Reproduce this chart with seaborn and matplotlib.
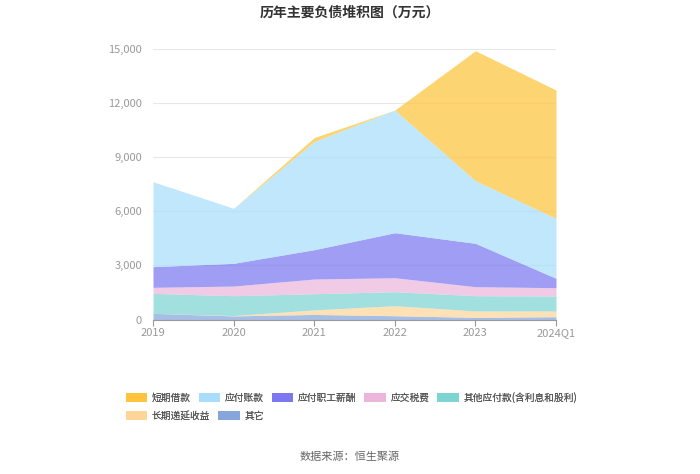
import pandas as pd
import seaborn as sns
import matplotlib.pyplot as plt
from matplotlib.patches import Patch

# data (万元)
periods = ['2019', '2020', '2021', '2022', '2023', '2024Q1']
other = [340, 200, 280, 210, 120, 155]
deferred_income = [0, 20, 250, 555, 350, 316]
other_payables = [1110, 1100, 900, 776, 850, 832]
taxes_payable = [335, 535, 815, 776, 500, 462]
payroll_payable = [1145, 1260, 1625, 2496, 2405, 520]
accounts_payable = [4710, 3050, 6000, 6800, 3470, 3325]
short_term_loans = [0, 0, 220, 0, 7210, 7115]

labels = ['其它', '长期递延收益', '其他应付款(含利息和股利)', '应交税费',
          '应付职工薪酬', '应付账款', '短期借款']
colors = ['#86a6db', '#ffd699', '#7dd5d3', '#ecb6dc',
          '#7b78f0', '#a8defb', '#fdc43c']

df = pd.DataFrame({
    '其它': other,
    '长期递延收益': deferred_income,
    '其他应付款(含利息和股利)': other_payables,
    '应交税费': taxes_payable,
    '应付职工薪酬': payroll_payable,
    '应付账款': accounts_payable,
    '短期借款': short_term_loans,
}, index=periods)

sns.set_theme(style='white')
plt.rcParams['font.family'] = ['Noto Sans CJK SC', 'DejaVu Sans']

fig = plt.figure(figsize=(7, 4.74), dpi=100)
ax = fig.add_axes([153 / 700, 1 - 319.5 / 474, 403 / 700, 270.5 / 474])

x = list(range(len(periods)))
ax.stackplot(x, [df[c] for c in labels], colors=colors, alpha=0.72, linewidth=0)

ax.set_xlim(0, len(periods) - 1)
ax.set_ylim(0, 15000)
yt = [0, 3000, 6000, 9000, 12000, 15000]
ax.set_yticks(yt)
ax.set_yticklabels([f'{v:,}' for v in yt])
ax.set_xticks(x)
ax.set_xticklabels(periods)
ax.grid(axis='y', color='#e8e8e8', linewidth=0.8)
ax.set_axisbelow(True)
ax.tick_params(axis='y', colors='#999999', labelsize=8, length=0, pad=8)
ax.tick_params(axis='x', colors='#999999', labelsize=8, length=4, width=0.8,
               direction='out', bottom=True, pad=2)
for s in ['top', 'right', 'left']:
    ax.spines[s].set_visible(False)
ax.spines['bottom'].set_color('#999999')
ax.spines['bottom'].set_linewidth(0.8)
ax.spines['bottom'].set_zorder(5)

fig.text(0.5, 1 - 13 / 474, '历年主要负债堆积图（万元）', ha='center', va='center',
         fontsize=10, fontweight='bold', color='#333333')

# legend in the reference order, two rows
rows = [['短期借款', '应付账款', '应付职工薪酬', '应交税费', '其他应付款(含利息和股利)'],
        ['长期递延收益', '其它']]
tops = [383, 402]
for names, top in zip(rows, tops):
    handles = [Patch(facecolor=colors[labels.index(n)], edgecolor='none') for n in names]
    leg = fig.legend(handles, names, loc='upper left',
                     bbox_to_anchor=(117 / 700, 1 - top / 474),
                     ncol=len(names), frameon=False, fontsize=7, handlelength=2.2,
                     handleheight=1.1, columnspacing=0.8, handletextpad=0.5,
                     labelcolor='#555555')
    fig.add_artist(leg)

fig.text(0.5, 1 - 457 / 474, '数据来源：恒生聚源', ha='center', va='center',
         fontsize=8, color='#666666')

fig.savefig('out.png', dpi=100)
